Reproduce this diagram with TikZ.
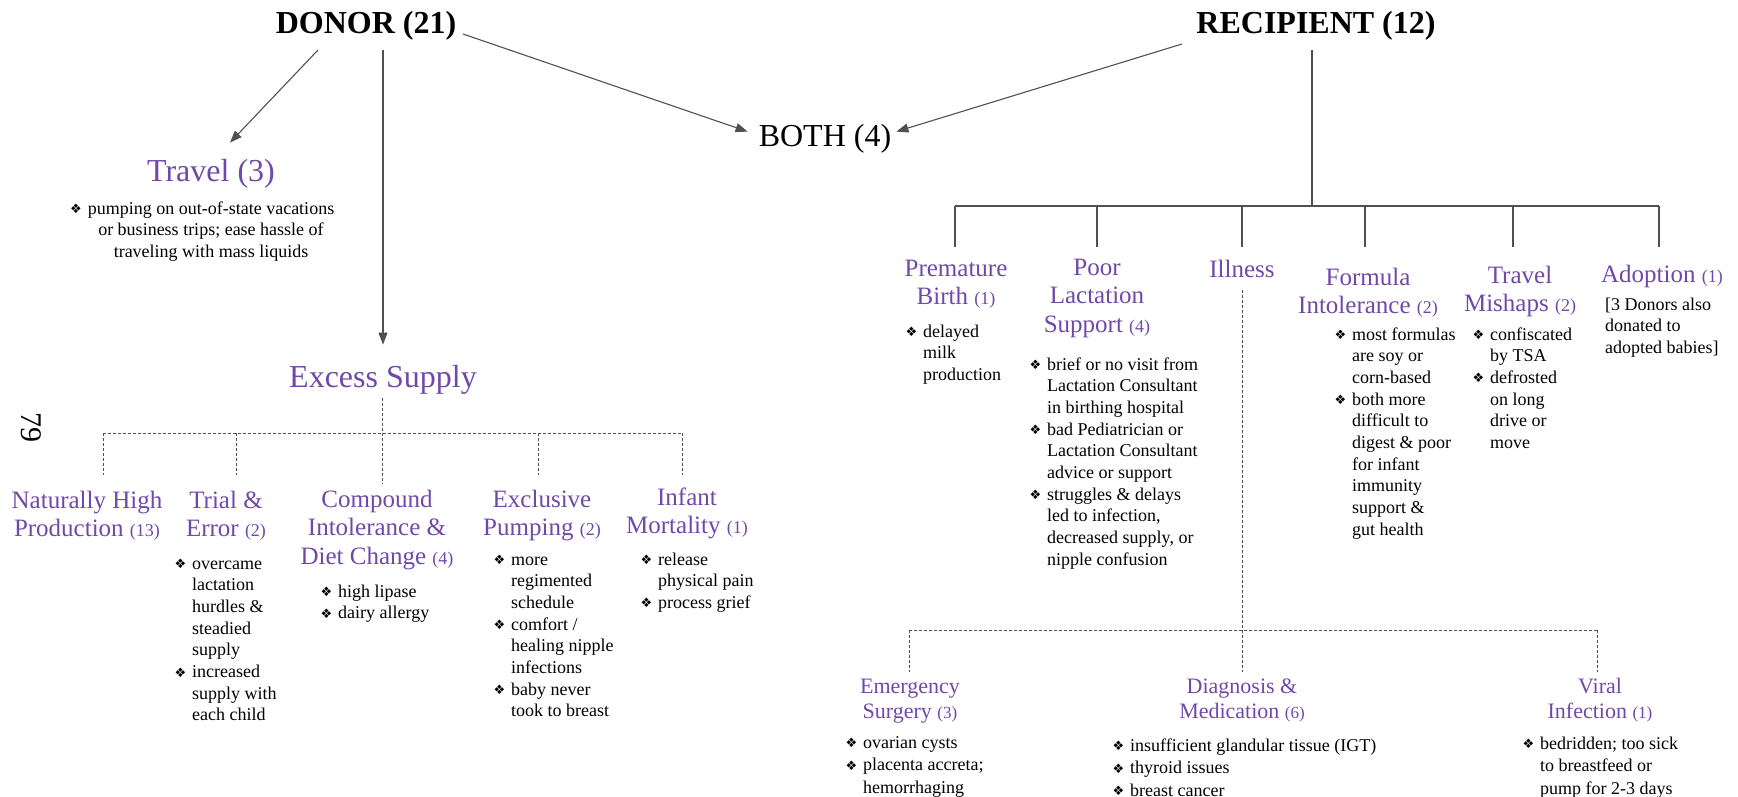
\documentclass[tikz,border=0pt]{standalone}
\usepackage{fontspec}
\setmainfont{Liberation Serif}
\newfontfamily\bulfont{DejaVu Sans}
\usetikzlibrary{arrows.meta}

\definecolor{labpurple}{RGB}{112,72,168}
\definecolor{linegray}{RGB}{80,80,80}

% bullet glyph, hung to the left of the line it starts
\newcommand\bul{{\bulfont\fontsize{13}{13}\selectfont\raisebox{0.5pt}{\char"2756}}}
\newcommand\bi{\llap{\bul\hspace{6pt}}}
% small count after a category name
\newcommand\cnt[1]{{\fontsize{18}{18}\selectfont #1}}
\newcommand\scnt[1]{{\fontsize{17}{17}\selectfont #1}}
% stacked lines: left aligned / centred, baseline on the first line
\newcommand\lst[1]{\begin{tabular}[t]{@{}l@{}}#1\end{tabular}}
\newcommand\ctr[1]{\begin{tabular}[t]{@{}c@{}}#1\end{tabular}}

\tikzset{
  head/.style={font=\fontsize{32}{36}\selectfont\bfseries, inner sep=0pt, anchor=base},
  plainhead/.style={font=\fontsize{32}{36}\selectfont, inner sep=0pt, anchor=base},
  biglab/.style={text=labpurple, font=\fontsize{32}{36}\selectfont, inner sep=0pt, anchor=base},
  lab/.style={text=labpurple, font=\fontsize{25}{28.5}\selectfont, inner sep=0pt, anchor=base},
  sublab/.style={text=labpurple, font=\fontsize{22}{25}\selectfont, inner sep=0pt, anchor=base},
  note/.style={font=\fontsize{18}{21.7}\selectfont, inner sep=0pt, anchor=base west},
  lownote/.style={note, font=\fontsize{18}{22.5}\selectfont},
  conn/.style={draw=linegray, line width=1.1pt},
  arr/.style={conn, -{Triangle[length=12pt,width=9pt]}},
  dotline/.style={draw=linegray, line width=0.9pt, dash pattern=on 3pt off 2pt},
}

\begin{document}
\begin{tikzpicture}[x=1pt,y=-1pt]
\useasboundingbox (0,0) rectangle (1738,797);

% ---------- top level ----------
\node[head] (donor) at (366,34) {DONOR (21)};
\node[head] (recip) at (1316,34) {RECIPIENT (12)};
\node[plainhead] (both) at (825,147) {BOTH (4)};

\node[font=\fontsize{30}{30}\selectfont, rotate=-90, inner sep=0pt] (pg) at (31,427) {79};

% ---------- donor side ----------
\node[biglab] (travel) at (211,182) {Travel (3)};
\node[note, anchor=base] (travelnote) at (211,214)
  {\ctr{\bi pumping on out-of-state vacations\\ or business trips; ease hassle of\\ traveling with mass liquids}};

\node[biglab] (excess) at (383,387) {Excess Supply};

\node[lab] (nhp) at (87,508) {\ctr{Naturally High\\ Production \cnt{(13)}}};
\node[lab] (trial) at (226,508) {\ctr{Trial \&\\ Error \cnt{(2)}}};
\node[lab] (comp) at (377,507) {\ctr{Compound\\ Intolerance \&\\ Diet Change \cnt{(4)}}};
\node[lab] (excl) at (542,507) {\ctr{Exclusive\\ Pumping \cnt{(2)}}};
\node[lab] (infant) at (687,505) {\ctr{Infant\\ Mortality \cnt{(1)}}};

\node[note] (trialn) at (192,569) {\lst{\bi overcame\\ lactation\\ hurdles \&\\ steadied\\ supply\\ \bi increased\\ supply with\\ each child}};
\node[note] (compn) at (338,597) {\lst{\bi high lipase\\ \bi dairy allergy}};
\node[note] (excln) at (511,565) {\lst{\bi more\\ regimented\\ schedule\\ \bi comfort /\\ healing nipple\\ infections\\ \bi baby never\\ took to breast}};
\node[note] (infantn) at (658,565) {\lst{\bi release\\ physical pain\\ \bi process grief}};

% ---------- recipient side ----------
\node[lab] (prem) at (956,276) {\ctr{Premature\\ Birth \cnt{(1)}}};
\node[lab] (poor) at (1097,275) {\ctr{Poor\\ Lactation\\ Support \cnt{(4)}}};
\node[lab] (ill) at (1242,277) {Illness};
\node[lab] (form) at (1368,285) {\ctr{Formula\\ Intolerance \cnt{(2)}}};
\node[lab] (tmis) at (1520,283) {\ctr{Travel\\ Mishaps \cnt{(2)}}};
\node[lab] (adopt) at (1662,282) {Adoption \cnt{(1)}};

\node[note] (premn) at (923,337) {\lst{\bi delayed\\ milk\\ production}};
\node[note] (poorn) at (1047,370) {\lst{\bi brief or no visit from\\ Lactation Consultant\\ in birthing hospital\\ \bi bad Pediatrician or\\ Lactation Consultant\\ advice or support\\ \bi struggles \& delays\\ led to infection,\\ decreased supply, or\\ nipple confusion}};
\node[note] (formn) at (1352,340) {\lst{\bi most formulas\\ are soy or\\ corn-based\\ \bi both more\\ difficult to\\ digest \& poor\\ for infant\\ immunity\\ support \&\\ gut health}};
\node[note] (tmisn) at (1490,340) {\lst{\bi confiscated\\ by TSA\\ \bi defrosted\\ on long\\ drive or\\ move}};
\node[note] (adoptn) at (1605,310) {\lst{[3 Donors also\\ donated to\\ adopted babies]}};

% illness sub-branches
\node[sublab] (emerg) at (910,693) {\ctr{Emergency\\ Surgery \scnt{(3)}}};
\node[sublab] (diag) at (1242,693) {\ctr{Diagnosis \&\\ Medication \scnt{(6)}}};
\node[sublab] (viral) at (1600,693) {\ctr{Viral\\ Infection \scnt{(1)}}};

\node[lownote] (emergn) at (863,748) {\lst{\bi ovarian cysts\\ \bi placenta accreta;\\ hemorrhaging}};
\node[lownote] (diagn) at (1130,751) {\lst{\bi insufficient glandular tissue (IGT)\\ \bi thyroid issues\\ \bi breast cancer}};
\node[lownote] (viraln) at (1540,749) {\lst{\bi bedridden; too sick\\ to breastfeed or\\ pump for 2-3 days}};

% ---------- arrows from the two groups ----------
\coordinate (dTravel) at (318,50);
\coordinate (dExcess) at (383,50);
\coordinate (dBoth) at (463,34);
\coordinate (rBoth) at (1182,44);
\draw[arr] (dTravel) -- ([xshift=19pt,yshift=17pt]travel.north);
\draw[arr] (dExcess) -- ([yshift=20pt]excess.north);
\draw[arr] (dBoth) -- ([xshift=-11pt,yshift=-7pt]both.north west);
\draw[arr] (rBoth) -- ([xshift=5pt,yshift=-7pt]both.north east);

% ---------- excess supply branches (dashed) ----------
\coordinate (xstem) at (382,398);
\coordinate (xbar) at (382,433);
\coordinate (x1) at (103,433);
\coordinate (x2) at (236,433);
\coordinate (x4) at (538,433);
\coordinate (x5) at (682,433);
\draw[dotline] (xstem) -- (xbar);
\draw[dotline] (x1) -- (x5);
\foreach \p in {x1,x2,x4,x5} \draw[dotline] (\p) -- ++(0,42);
\draw[dotline] (xbar) -- ++(0,51);

% ---------- recipient branches ----------
\coordinate (rtop) at (1312,50);
\coordinate (rbar) at (1312,206);
\coordinate (r1) at (955,206);
\coordinate (r2) at (1097,206);
\coordinate (r3) at (1242,206);
\coordinate (r4) at (1365,206);
\coordinate (r5) at (1513,206);
\coordinate (r6) at (1659,206);
\draw[conn] (rtop) -- (rbar);
\draw[conn] (r1) -- (r6);
\foreach \p in {r1,r2,r3,r4,r5,r6} \draw[conn] (\p) -- ++(0,41);

% ---------- illness branches (dashed) ----------
\coordinate (itop) at (1242,290);
\coordinate (ibar) at (1242,630);
\coordinate (i1) at (909,630);
\coordinate (i3) at (1597,630);
\draw[dotline] (itop) -- (ibar);
\draw[dotline] (i1) -- (i3);
\foreach \p in {i1,ibar,i3} \draw[dotline] (\p) -- ++(0,42);
\end{tikzpicture}
\end{document}
